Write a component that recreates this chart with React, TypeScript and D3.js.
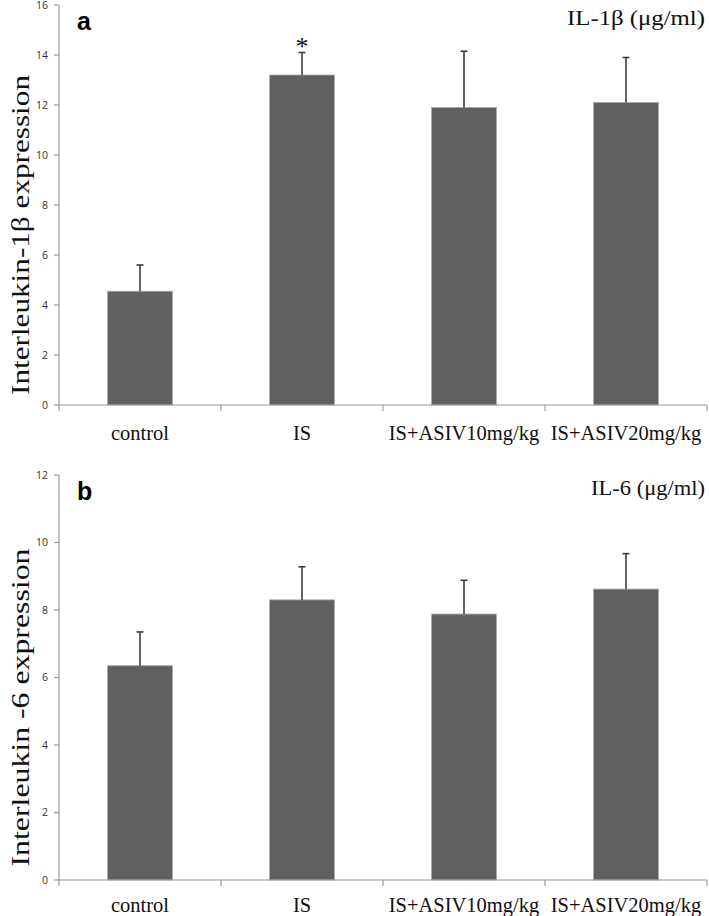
import * as d3 from "d3";
import React from "react";

const categories = ["control", "IS", "IS+ASIV10mg/kg", "IS+ASIV20mg/kg"];

// panel a: IL-1β
const il1bMeans = [4.55, 13.2, 11.9, 12.1];
const il1bErrors = [1.05, 0.9, 2.25, 1.8];
const il1bTicks = [0, 2, 4, 6, 8, 10, 12, 14, 16];

// panel b: IL-6
const il6Means = [6.35, 8.3, 7.88, 8.62];
const il6Errors = [1.0, 0.98, 1.0, 1.05];
const il6Ticks = [0, 2, 4, 6, 8, 10, 12];

const W = 709;
const H = 916;

interface PanelProps {
  letter: string;
  unitLabel: string;
  yTitle: string;
  means: number[];
  errors: number[];
  ticks: number[];
  yMax: number;
  top: number;
  bottom: number;
  star?: number;
  titleLen: number;
  unitLen: number;
  labelOffset: number;
}

const Panel: React.FC<PanelProps> = ({
  letter,
  unitLabel,
  yTitle,
  means,
  errors,
  ticks,
  yMax,
  top,
  bottom,
  star,
  titleLen,
  unitLen,
  labelOffset,
}) => {
  const x = d3
    .scaleBand<string>()
    .domain(categories)
    .range([59, 707])
    .paddingInner(0.6)
    .paddingOuter(0.3);
  const y = d3.scaleLinear().domain([0, yMax]).range([bottom, top]);
  const step = x.step();
  const left = 59;
  const edges = d3.range(categories.length + 1).map((i) => left + i * step);
  const axisColor = "#9a9a9a";

  return (
    <g>
      {/* y axis */}
      <line x1={left} x2={left} y1={y(0)} y2={y(yMax)} stroke={axisColor} strokeWidth={1.2} />
      {ticks.map((t) => (
        <g key={t}>
          <line x1={left - 5} x2={left} y1={y(t)} y2={y(t)} stroke={axisColor} strokeWidth={1.2} />
          <text
            x={48}
            y={y(t)}
            dy="0.38em"
            textAnchor="end"
            fontFamily="'Open Sans', 'DejaVu Sans', sans-serif"
            fontSize={10.5}
            fill="#333"
          >
            {t}
          </text>
        </g>
      ))}

      {/* bars */}
      {categories.map((c, i) => (
        <rect
          key={c}
          x={x(c)}
          y={y(means[i])}
          width={x.bandwidth()}
          height={y(0) - y(means[i])}
          fill="#606060"
          stroke="#a8a8a8"
          strokeWidth={0.8}
        />
      ))}

      {/* error bars */}
      {categories.map((c, i) => {
        const cx = (x(c) ?? 0) + x.bandwidth() / 2;
        const yt = y(means[i] + errors[i]);
        return (
          <g key={c} stroke="#3c3c3c" strokeWidth={1.6}>
            <line x1={cx} x2={cx} y1={y(means[i])} y2={yt} />
            <line x1={cx - 3.5} x2={cx + 3.5} y1={yt} y2={yt} />
          </g>
        );
      })}

      {star !== undefined && (
        <text
          x={(x(categories[star]) ?? 0) + x.bandwidth() / 2}
          y={y(means[star] + errors[star]) + 2}
          textAnchor="middle"
          fontFamily="'Liberation Serif', serif"
          fontSize={26}
          fill="#111"
        >
          *
        </text>
      )}

      {/* x axis */}
      <line x1={left} x2={edges[edges.length - 1]} y1={y(0)} y2={y(0)} stroke={axisColor} strokeWidth={1.2} />
      {edges.map((e, i) => (
        <line key={i} x1={e} x2={e} y1={y(0)} y2={y(0) + 6} stroke={axisColor} strokeWidth={1.2} />
      ))}
      {categories.map((c) => (
        <text
          key={c}
          x={(x(c) ?? 0) + x.bandwidth() / 2}
          y={y(0) + labelOffset}
          textAnchor="middle"
          fontFamily="'Liberation Serif', serif"
          fontSize={20.5}
          fill="#111"
        >
          {c}
        </text>
      ))}

      {/* y title */}
      <text
        transform={`translate(29, ${(y(0) + y(yMax)) / 2 + 30}) rotate(-90)`}
        textAnchor="middle"
        fontFamily="'Liberation Serif', serif"
        fontSize={25}
        fill="#111"
        textLength={titleLen}
        lengthAdjust="spacingAndGlyphs"
      >
        {yTitle}
      </text>

      {/* panel letter */}
      <text x={77} y={top + 25} fontFamily="'Liberation Sans', Arial, sans-serif" fontWeight="bold" fontSize={25} fill="#000">
        {letter}
      </text>

      {/* unit label */}
      <text
        x={705}
        y={top + 20}
        textAnchor="end"
        fontFamily="'Liberation Serif', serif"
        fontSize={21}
        fill="#111"
        textLength={unitLen}
        lengthAdjust="spacingAndGlyphs"
      >
        {unitLabel}
      </text>
    </g>
  );
};

export default function App() {
  return (
    <svg
      width={W}
      height={H}
      viewBox={`0 0 ${W} ${H}`}
      style={{ position: "absolute", left: 0, top: 0, background: "#fff" }}
    >
      <rect width={W} height={H} fill="#fff" />
      <Panel
        letter="a"
        unitLabel="IL-1β (μg/ml)"
        yTitle="Interleukin-1β expression"
        means={il1bMeans}
        errors={il1bErrors}
        ticks={il1bTicks}
        yMax={16}
        top={5}
        bottom={405}
        star={1}
        titleLen={320}
        unitLen={138}
        labelOffset={35}
      />
      <Panel
        letter="b"
        unitLabel="IL-6 (μg/ml)"
        yTitle="Interleukin -6 expression"
        means={il6Means}
        errors={il6Errors}
        ticks={il6Ticks}
        yMax={12}
        top={475}
        bottom={880}
        titleLen={318}
        unitLen={114}
        labelOffset={32}
      />
    </svg>
  );
}
